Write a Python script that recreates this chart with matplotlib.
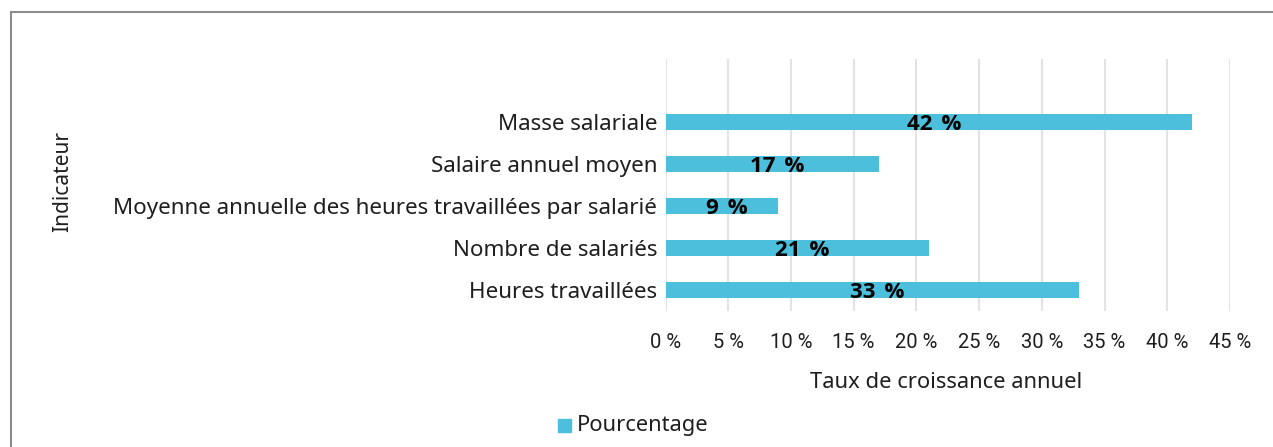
import numpy as np
import matplotlib
matplotlib.use("Agg")
import matplotlib.pyplot as plt
from matplotlib.patches import Rectangle

# data (bottom to top as drawn)
categories = ["Heures travaillées", "Nombre de salariés",
              "Moyenne annuelle des heures travaillées par salarié",
              "Salaire annuel moyen", "Masse salariale"]
values = [33, 21, 9, 17, 42]
xticks = [0, 5, 10, 15, 20, 25, 30, 35, 40, 45]

BAR = "#4BBFDC"
TXT = "#1E1E1E"
W, H = 1273, 447

fig = plt.figure(figsize=(W / 100, H / 100), dpi=100)
# axes placed in pixel coords: x 665.5..1230, y 59..311 (from top)
ax = fig.add_axes([665.5 / W, 1 - 311 / H, (1230 - 665.5) / W, (311 - 59) / H])

y = np.arange(len(categories))
ax.barh(y, values, height=0.39, color=BAR, zorder=3)
for yi, v in zip(y, values):
    ax.text(v / 2 + 0.4, yi - 0.05, f"{v}\u2009\u2009%", ha="center", va="center", fontsize=16,
            fontweight="bold", family=["Open Sans", "DejaVu Sans"], color="black", zorder=4)

ax.set_xlim(0, 45)
ax.set_ylim(-0.5, 5.5)
ax.set_xticks(xticks)
ax.set_xticklabels([f"{t} %" for t in xticks], family="Roboto", fontsize=14.5, color=TXT)
ax.set_yticks(y)
ax.set_yticklabels(categories, family="Noto Sans", fontsize=16.1, color=TXT)
ax.tick_params(length=0, pad=6)
ax.tick_params(axis="x", pad=16)
ax.grid(axis="x", color="#E3E3E3", lw=1.5, zorder=0)
for s in ax.spines.values():
    s.set_visible(False)

fig.text(946 / W, 1 - 382 / H, "Taux de croissance annuel", ha="center", va="center",
         family="Noto Sans", fontsize=15.8, color=TXT)
fig.text(63 / W, 1 - 182 / H, "Indicateur", ha="center", va="center", rotation=90,
         family="Noto Sans", fontsize=15, color=TXT)

# legend
fig.patches.append(Rectangle((558 / W, 1 - 432 / H), 13 / W, 13 / H,
                             transform=fig.transFigure, color=BAR))
fig.text(577 / W, 1 - 425 / H, "Pourcentage", ha="left", va="center",
         family="Noto Sans", fontsize=15.8, color=TXT)

# outer frame (cut by the picture edges)
fig.patches.append(Rectangle((11 / W, -0.1), 1.2, 1 - 12 / H + 0.1,
                             transform=fig.transFigure, fill=False,
                             edgecolor="#8C8C8C", lw=1.5))

fig.savefig("out.png", dpi=100)
